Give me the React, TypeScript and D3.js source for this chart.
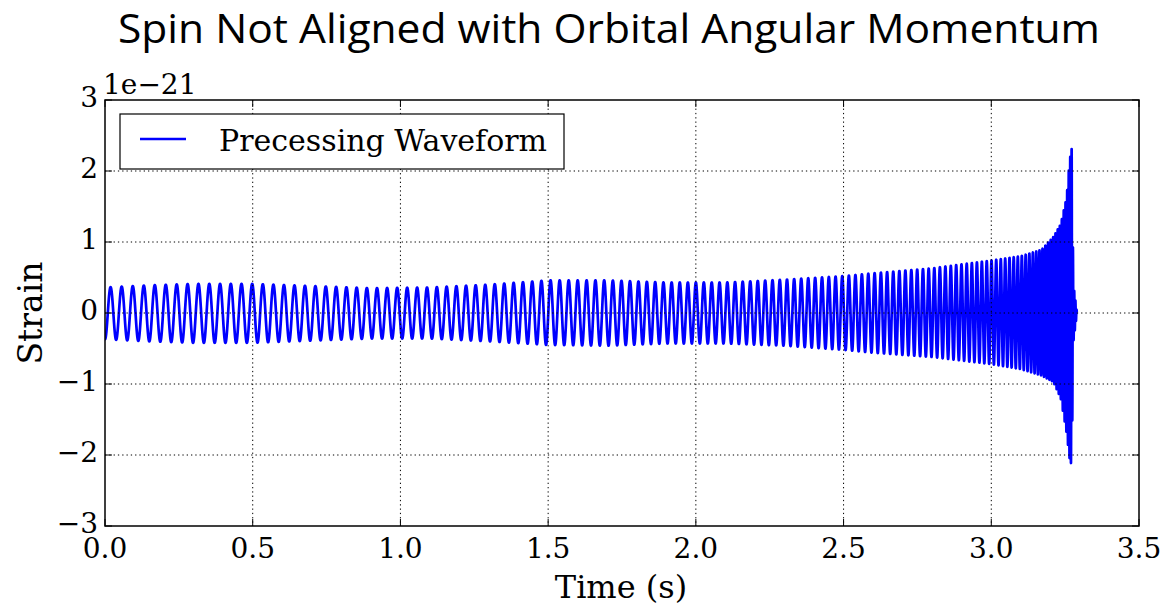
import React from "react";
import * as d3 from "d3";

// ---- Data ----
// Axis ticks
const xTicks = [0, 0.5, 1.0, 1.5, 2.0, 2.5, 3.0, 3.5];
const yTicks = [-3, -2, -1, 0, 1, 2, 3];
const xTickLabels = ["0.0", "0.5", "1.0", "1.5", "2.0", "2.5", "3.0", "3.5"];
const yTickLabels = ["\u22123", "\u22122", "\u22121", "0", "1", "2", "3"];

// Gravitational-wave frequency (Hz) read from the spacing of the cycles
const freqTimes = [0, 0.3, 0.7, 1.0, 1.3, 1.6, 1.9, 2.1, 2.3, 2.5, 2.7, 2.9, 3.0, 3.1, 3.15, 3.2, 3.24, 3.265, 3.28, 3.29];
const freqHz = [26.5, 27.2, 28.3, 29.5, 31, 33, 36, 38, 41, 44.5, 49, 56, 62, 74, 88, 115, 150, 200, 240, 260];

// Envelope of the strain (units of 1e-21): upper and lower peaks
const envTimes = [0, 0.15, 0.3, 0.5, 0.7, 0.9, 1.1, 1.3, 1.5, 1.7, 1.9, 2.1, 2.3, 2.5, 2.6, 2.8, 3.0, 3.1, 3.17, 3.21, 3.235, 3.255, 3.265, 3.272, 3.278, 3.29];
const envUpper = [0.36, 0.39, 0.41, 0.41, 0.38, 0.35, 0.36, 0.40, 0.46, 0.46, 0.43, 0.43, 0.47, 0.52, 0.56, 0.63, 0.74, 0.80, 0.89, 1.07, 1.25, 1.63, 2.15, 2.31, 0.4, 0];
const envLower = [-0.37, -0.40, -0.42, -0.42, -0.39, -0.36, -0.36, -0.40, -0.45, -0.46, -0.43, -0.43, -0.46, -0.52, -0.56, -0.62, -0.72, -0.79, -0.88, -0.97, -1.2, -1.69, -2.05, -2.15, -0.4, 0];

const seriesName = "Precessing Waveform";
const titleText = "Spin Not Aligned with Orbital Angular Momentum";

// ---- Layout ----
const W = 1167;
const H = 605;
const plot = { left: 105, right: 1139, top: 100, bottom: 526 };
const serif = "'DejaVu Serif', serif";

function buildWaveform(): [number, number][] {
  const fScale = d3.scaleLinear().domain(freqTimes).range(freqHz).clamp(true);
  const upScale = d3.scaleLinear().domain(envTimes).range(envUpper).clamp(true);
  const loScale = d3.scaleLinear().domain(envTimes).range(envLower).clamp(true);
  const tEnd = envTimes[envTimes.length - 1];
  const dt = 0.0001;
  const pts: [number, number][] = [];
  let phase = Math.PI;
  for (let t = 0; t <= tEnd + 1e-9; t += dt) {
    const c = Math.cos(phase);
    const amp = c >= 0 ? upScale(t) : -loScale(t);
    pts.push([t, amp * c]);
    phase += 2 * Math.PI * fScale(t) * dt;
  }
  return pts;
}

export default function App() {
  const x = d3.scaleLinear().domain([0, 3.5]).range([plot.left, plot.right]);
  const y = d3.scaleLinear().domain([-3, 3]).range([plot.bottom, plot.top]);
  const pts = buildWaveform();
  const line = d3
    .line<[number, number]>()
    .x((d) => x(d[0]))
    .y((d) => y(d[1]));
  const pathD = line(pts) || "";
  const tickLen = 7;

  return (
    <svg
      width={W}
      height={H}
      style={{ position: "absolute", left: 0, top: 0, background: "#fff" }}
    >
      <rect x={0} y={0} width={W} height={H} fill="#fff" />
      {/* Title */}
      <text
        x={609}
        y={43}
        textAnchor="middle"
        fontFamily="'Open Sans', sans-serif"
        fontSize={40}
        textLength={982}
        lengthAdjust="spacingAndGlyphs"
        fill="#000"
      >
        {titleText}
      </text>

      <defs>
        <clipPath id="plotClip">
          <rect x={plot.left} y={plot.top} width={plot.right - plot.left} height={plot.bottom - plot.top} />
        </clipPath>
      </defs>

      {/* waveform */}
      <path
        d={pathD}
        fill="none"
        stroke="#0000ff"
        strokeWidth={2.7}
        strokeLinejoin="round"
        clipPath="url(#plotClip)"
      />

      {/* grid */}
      {xTicks.slice(1, -1).map((t) => (
        <line
          key={"gx" + t}
          x1={x(t)}
          x2={x(t)}
          y1={plot.top}
          y2={plot.bottom}
          stroke="#000"
          strokeWidth={1}
          strokeDasharray="1.3,3"
        />
      ))}
      {yTicks.slice(1, -1).map((t) => (
        <line
          key={"gy" + t}
          x1={plot.left}
          x2={plot.right}
          y1={y(t)}
          y2={y(t)}
          stroke="#000"
          strokeWidth={1}
          strokeDasharray="1.3,3"
        />
      ))}

      {/* ticks (inward, all sides) */}
      {xTicks.map((t) => (
        <g key={"tx" + t}>
          <line x1={x(t)} x2={x(t)} y1={plot.bottom} y2={plot.bottom - tickLen} stroke="#000" strokeWidth={1} />
          <line x1={x(t)} x2={x(t)} y1={plot.top} y2={plot.top + tickLen} stroke="#000" strokeWidth={1} />
        </g>
      ))}
      {yTicks.map((t) => (
        <g key={"ty" + t}>
          <line x1={plot.left} x2={plot.left + tickLen} y1={y(t)} y2={y(t)} stroke="#000" strokeWidth={1} />
          <line x1={plot.right} x2={plot.right - tickLen} y1={y(t)} y2={y(t)} stroke="#000" strokeWidth={1} />
        </g>
      ))}

      {/* frame */}
      <rect
        x={plot.left}
        y={plot.top}
        width={plot.right - plot.left}
        height={plot.bottom - plot.top}
        fill="none"
        stroke="#000"
        strokeWidth={1.5}
      />

      {/* tick labels */}
      {xTicks.map((t, i) => (
        <text
          key={"lx" + t}
          x={x(t)}
          y={558}
          textAnchor="middle"
          fontFamily={serif}
          fontSize={28}
          fill="#000"
        >
          {xTickLabels[i]}
        </text>
      ))}
      {yTicks.map((t, i) => (
        <text
          key={"ly" + t}
          x={98}
          y={y(t) + 7}
          textAnchor="end"
          fontFamily={serif}
          fontSize={28}
          fill="#000"
        >
          {yTickLabels[i]}
        </text>
      ))}
      <text x={103} y={94} fontFamily={serif} fontSize={28} fill="#000">
        1e{"\u2212"}21
      </text>

      {/* axis labels */}
      <text x={621} y={598} textAnchor="middle" fontFamily={serif} fontSize={32} fill="#000">
        Time (s)
      </text>
      <text
        transform={`translate(42,${(plot.top + plot.bottom) / 2}) rotate(-90)`}
        textAnchor="middle"
        fontFamily={serif}
        fontSize={33}
        fill="#000"
      >
        Strain
      </text>

      {/* legend */}
      <rect x={120} y={114} width={444} height={55} fill="#fff" stroke="#000" strokeWidth={1.2} />
      <line x1={140} x2={186} y1={139} y2={139} stroke="#0000ff" strokeWidth={2.7} />
      <text x={219} y={151} fontFamily={serif} fontSize={30} fill="#000">
        {seriesName}
      </text>
    </svg>
  );
}
